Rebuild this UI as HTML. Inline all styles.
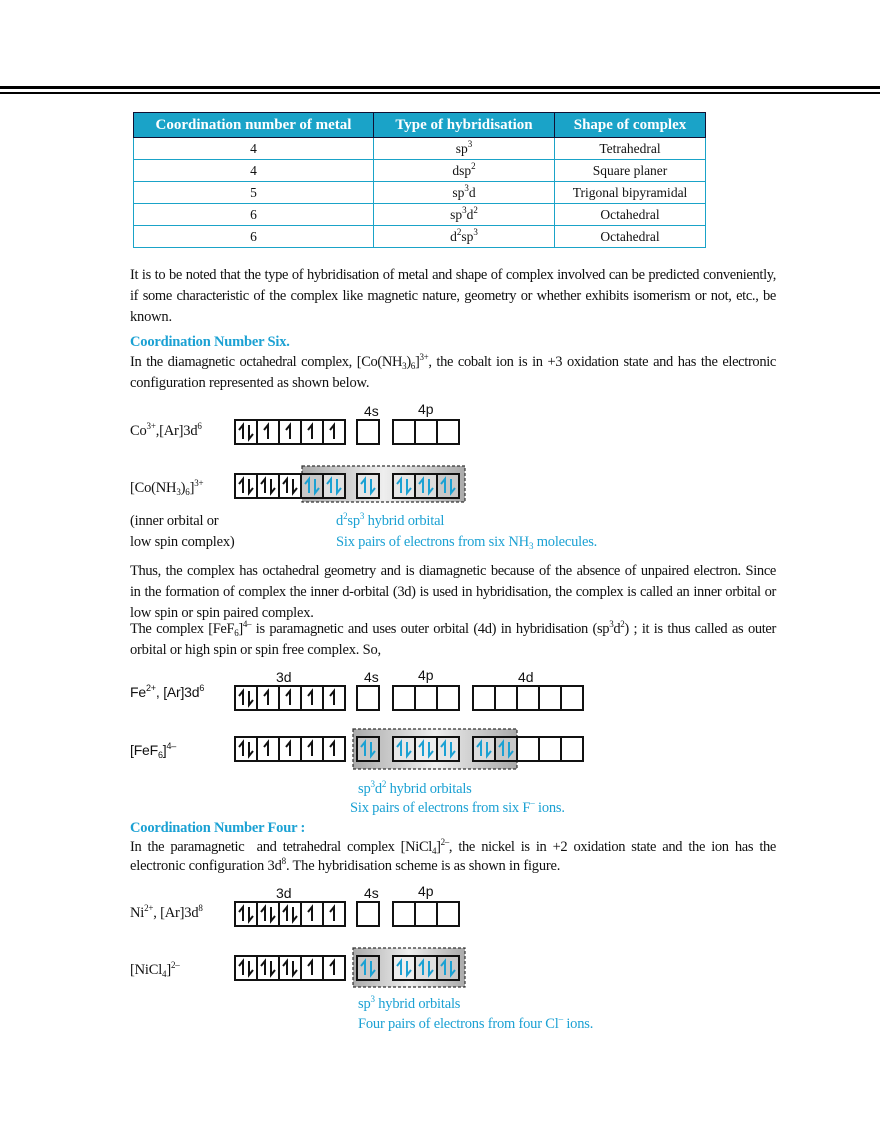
<!DOCTYPE html>
<html><head><meta charset="utf-8">
<style>
body{margin:0;background:#fff;}
#p{position:relative;width:880px;height:1139px;overflow:hidden;font-family:"Liberation Serif",serif;color:#111;}
.t{position:absolute;font-size:14.5px;line-height:21px;white-space:nowrap;letter-spacing:-0.2px;}
.j{position:absolute;left:130px;width:646px;font-size:14.5px;line-height:21px;text-align:justify;text-align-last:justify;white-space:nowrap;letter-spacing:-0.35px;}
.b{color:#1ba1d3;}
.h{color:#1ba1d3;font-weight:bold;}
.s{font-family:"Liberation Sans",sans-serif;font-size:14px;}
sup{font-size:9px;vertical-align:6px;line-height:0;}
sub{font-size:9px;vertical-align:-3px;line-height:0;}
table{position:absolute;left:133px;top:112px;width:573px;border-collapse:collapse;font-size:13.5px;}
td,th{border:1.5px solid #1aa3c8;text-align:center;height:21px;padding:0;}
th{background:#1aa3c8;color:#fff;font-size:15px;height:24px;border:1.5px solid #113;}
</style></head><body><div id="p">
<div style="position:absolute;left:0;top:86px;width:880px;height:3px;background:#000"></div>
<div style="position:absolute;left:0;top:92px;width:880px;height:2px;background:#000"></div>
<table>
<tr><th style="width:239px">Coordination number of metal</th><th style="width:180px">Type of hybridisation</th><th>Shape of complex</th></tr>
<tr><td>4</td><td>sp<sup>3</sup></td><td>Tetrahedral</td></tr>
<tr><td>4</td><td>dsp<sup>2</sup></td><td>Square planer</td></tr>
<tr><td>5</td><td>sp<sup>3</sup>d</td><td>Trigonal bipyramidal</td></tr>
<tr><td>6</td><td>sp<sup>3</sup>d<sup>2</sup></td><td>Octahedral</td></tr>
<tr><td>6</td><td>d<sup>2</sup>sp<sup>3</sup></td><td>Octahedral</td></tr>
</table>
<div class="j" style="top:265px">It is to be noted that the type of hybridisation of metal and shape of complex involved can be predicted conveniently,</div>
<div class="j" style="top:286px">if some characteristic of the complex like magnetic nature, geometry or whether exhibits isomerism or not, etc., be</div>
<div class="t" style="left:130px;top:307px">known.</div>
<div class="t h" style="left:130px;top:332px">Coordination Number Six.</div>
<div class="j" style="top:352px">In the diamagnetic octahedral complex, [Co(NH<sub>3</sub>)<sub>6</sub>]<sup>3+</sup>, the cobalt ion is in +3 oxidation state and has the electronic</div>
<div class="t" style="left:130px;top:373px">configuration represented as shown below.</div>
<div class="t" style="left:130px;top:421px">Co<sup>3+</sup>,[Ar]3d<sup>6</sup></div>
<div class="t" style="left:130px;top:478px">[Co(NH<sub>3</sub>)<sub>6</sub>]<sup>3+</sup></div>
<div class="t" style="left:130px;top:511px">(inner orbital or</div>
<div class="t" style="left:130px;top:532px">low spin complex)</div>
<div class="t b" style="left:336px;top:511px">d<sup>2</sup>sp<sup>3</sup> hybrid orbital</div>
<div class="t b" style="left:336px;top:532px">Six pairs of electrons from six NH<sub>3</sub> molecules.</div>
<div class="j" style="top:561px">Thus, the complex has octahedral geometry and is diamagnetic because of the absence of unpaired electron. Since</div>
<div class="j" style="top:582px">in the formation of complex the inner d-orbital (3d) is used in hybridisation, the complex is called an inner orbital or</div>
<div class="t" style="left:130px;top:603px">low spin or spin paired complex.</div>
<div class="j" style="top:619px">The complex [FeF<sub>6</sub>]<sup>4–</sup> is paramagnetic and uses outer orbital (4d) in hybridisation (sp<sup>3</sup>d<sup>2</sup>) ; it is thus called as outer</div>
<div class="t" style="left:130px;top:640px">orbital or high spin or spin free complex. So,</div>
<div class="t s" style="left:130px;top:682px">Fe<sup>2+</sup>, [Ar]3d<sup>6</sup></div>
<div class="t s" style="left:130px;top:740px">[FeF<sub>6</sub>]<sup>4–</sup></div>
<div class="t b" style="left:358px;top:779px">sp<sup>3</sup>d<sup>2</sup> hybrid orbitals</div>
<div class="t b" style="left:350px;top:798px">Six pairs of electrons from six F<sup>–</sup> ions.</div>
<div class="t h" style="left:130px;top:818px">Coordination Number Four :</div>
<div class="j" style="top:837px">In the paramagnetic &nbsp;and tetrahedral complex [NiCl<sub>4</sub>]<sup>2–</sup>, the nickel is in +2 oxidation state and the ion has the</div>
<div class="t" style="left:130px;top:856px">electronic configuration 3d<sup>8</sup>. The hybridisation scheme is as shown in figure.</div>
<div class="t" style="left:130px;top:903px">Ni<sup>2+</sup>, [Ar]3d<sup>8</sup></div>
<div class="t" style="left:130px;top:960px">[NiCl<sub>4</sub>]<sup>2–</sup></div>
<div class="t b" style="left:358px;top:994px">sp<sup>3</sup> hybrid orbitals</div>
<div class="t b" style="left:358px;top:1014px">Four pairs of electrons from four Cl<sup>–</sup> ions.</div>
<svg id="sv" width="880" height="1139" style="position:absolute;left:0;top:0"></svg>
</div>
<script>
var s='';
function shade(x1,y1,x2,y2){
 s+='<rect x="'+x1+'" y="'+y1+'" width="'+(x2-x1)+'" height="'+(y2-y1)+'" fill="url(#g)" stroke="#333" stroke-width="1.2" stroke-dasharray="3,2"/>';
}
function lab(x,y,t){s+='<text x="'+x+'" y="'+y+'" font-family="Liberation Sans" font-size="14" fill="#111">'+t+'</text>';}
function box(x,y,st,fill){
 var c=fill?'#1ba1d3':'#111';
 s+='<rect x="'+x+'" y="'+y+'" width="22" height="24" fill="'+(fill||'#fff')+'" stroke="#111" stroke-width="2"/>';
 if(st>=1){var ux=st==2?x+8:x+11;
  s+='<path d="M'+ux+' '+(y+19)+'V'+(y+5)+'l-4 5" fill="none" stroke="'+c+'" stroke-width="2"/>';}
 if(st==2){var dx=x+14;
  s+='<path d="M'+dx+' '+(y+5)+'V'+(y+19)+'l4 -5" fill="none" stroke="'+c+'" stroke-width="2"/>';}
}
function row(x,y,arr){
 for(var i=0;i<arr.length;i++){box(x+i*22,y,arr[i],null);}
}
s+='<defs><linearGradient id="g" x1="0" x2="1"><stop offset="0" stop-color="#aaa"/><stop offset="0.5" stop-color="#eee"/><stop offset="1" stop-color="#aaa"/></linearGradient></defs>';
lab(364,416,'4s');lab(418,414,'4p');
row(235,420,[2,1,1,1,1]);box(357,420,0);row(393,420,[0,0,0]);
shade(302,466,465,502);
row(235,474,[2,2,2]);
box(301,474,2,'#c8c8c8');box(323,474,2,'#e0e0e0');box(357,474,2,'#e6e6e6');
box(393,474,2,'#e6e6e6');box(415,474,2,'#dcdcdc');box(437,474,2,'#c8c8c8');
lab(276,682,'3d');lab(364,682,'4s');lab(418,680,'4p');lab(518,682,'4d');
row(235,686,[2,1,1,1,1]);box(357,686,0);row(393,686,[0,0,0]);row(473,686,[0,0,0,0,0]);
shade(353,729,517,769);
row(235,737,[2,1,1,1,1]);
box(357,737,2,'#c8c8c8');box(393,737,2,'#e6e6e6');box(415,737,2,'#eee');box(437,737,2,'#e6e6e6');
box(473,737,2,'#dcdcdc');box(495,737,2,'#c8c8c8');row(517,737,[0,0,0]);
lab(276,898,'3d');lab(364,898,'4s');lab(418,896,'4p');
row(235,902,[2,2,2,1,1]);box(357,902,0);row(393,902,[0,0,0]);
shade(353,948,465,987);
row(235,956,[2,2,2,1,1]);
box(357,956,2,'#c8c8c8');box(393,956,2,'#eee');box(415,956,2,'#e0e0e0');box(437,956,2,'#c8c8c8');
document.getElementById('sv').innerHTML=s;
</script>
</body></html>
